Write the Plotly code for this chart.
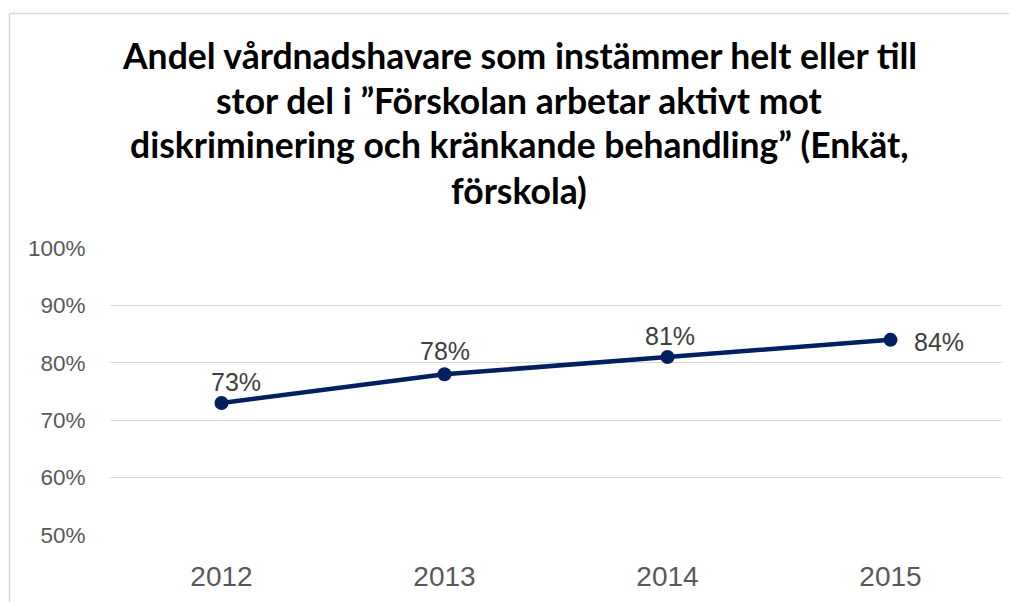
import plotly.graph_objects as go

PCT = chr(37)

years = ["2012", "2013", "2014", "2015"]
values = [73, 78, 81, 84]
value_labels = [str(v) + PCT for v in values]
y_ticks = [50, 60, 70, 80, 90, 100]
y_ticktext = [str(v) + PCT for v in y_ticks]
title_lines = [
    "Andel vårdnadshavare som instämmer helt eller till",
    "stor del i ”Förskolan arbetar aktivt mot",
    "diskriminering och kränkande behandling” (Enkät,",
    "förskola)",
]

# page has an 8px body margin; figure sized to fill the remaining window
OFF = 8
W, H = 1017 - OFF, 602 - OFF
L, R, T, B = 110 - OFF, 15, 247.5 - OFF, 67
PW = W - L - R
PH = H - T - B

def px_x(px):  # px in window coordinates
    return (px - OFF - L) / PW

def px_y(py):
    return (H - B - (py - OFF)) / PH

NAVY = "#002060"
GRAY_TXT = "#595959"
GRID = "#d9d9d9"

fig = go.Figure()
fig.add_trace(go.Scatter(
    x=years, y=values, mode="lines+markers",
    line=dict(color=NAVY, width=4.5),
    marker=dict(color=NAVY, size=14),
    hoverinfo="skip", showlegend=False,
))

# data labels (x given as category index on the category axis)
label_shifts = [(14, 21), (0, 23), (2, 21), (48, -2)]
for i, (v, lab, (dx, dy)) in enumerate(zip(values, value_labels, label_shifts)):
    fig.add_annotation(
        xref="x", yref="y", x=i, y=v, text=lab, showarrow=False,
        xshift=dx, yshift=dy, xanchor="center", yanchor="middle",
        font=dict(family="Liberation Sans, Arial, sans-serif", size=25, color="#404040"),
    )

# title lines
title_centers = [57.5, 102.5, 146.5, 192.5]
for line, cy in zip(title_lines, title_centers):
    fig.add_annotation(
        xref="paper", yref="paper", x=px_x(519), y=px_y(cy - 3),
        text="<b>" + line + "</b>", showarrow=False,
        xanchor="center", yanchor="middle",
        font=dict(family="Lato, sans-serif", size=35.5, color="#000000"),
    )

# chart-area border (left and top edges visible)
fig.add_shape(type="line", xref="paper", yref="paper",
              x0=px_x(9.5), x1=px_x(9.5), y0=px_y(12.5), y1=px_y(620),
              line=dict(color=GRID, width=1.5))
fig.add_shape(type="line", xref="paper", yref="paper",
              x0=px_x(9.5), x1=px_x(1040), y0=px_y(12.5), y1=px_y(12.5),
              line=dict(color=GRID, width=1.5))

fig.update_layout(
    template="none",
    width=W, height=H,
    margin=dict(l=L, r=R, t=T, b=B, pad=0, autoexpand=False),
    paper_bgcolor="white", plot_bgcolor="white",
    xaxis=dict(
        type="category", range=[-0.5, 3.5], automargin=False,
        showgrid=False, zeroline=False, showline=False,
        ticks="outside", ticklen=16, tickcolor="rgba(0,0,0,0)",
        tickfont=dict(family="Liberation Sans, Arial, sans-serif", size=28, color=GRAY_TXT),
    ),
    yaxis=dict(
        range=[50, 100], tickmode="array", tickvals=y_ticks, ticktext=y_ticktext,
        automargin=False,
        showgrid=True, gridcolor=GRID, gridwidth=1,
        zeroline=False, showline=False,
        ticks="outside", ticklen=19, tickcolor="rgba(0,0,0,0)",
        tickfont=dict(family="Liberation Sans, Arial, sans-serif", size=22.5, color=GRAY_TXT),
    ),
)

fig.write_html("out.html")
